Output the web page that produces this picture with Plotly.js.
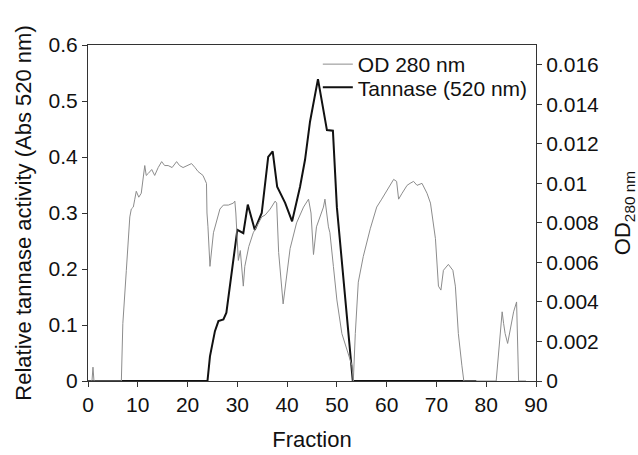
<!DOCTYPE html>
<html>
<head>
<meta charset="utf-8">
<script src="https://cdn.plot.ly/plotly-3.0.1.min.js"></script>
<style>html,body{margin:0;padding:0;background:#fff;}#chart{width:638px;height:455px;}</style>
</head>
<body>
<div id="chart"></div>
<script>
// OD 280 nm (right axis)
var fractionOD = [0,0.8,1,1.2,6.7,7,7.7,8.4,8.7,9.1,9.4,9.7,10.2,10.7,11.4,11.7,12.1,12.8,13.4,14.1,14.8,15.4,16.1,16.9,17.8,18.4,19.1,19.9,20.8,21.5,22.1,23.1,23.8,23.9,24.1,24.5,25.2,26.5,27.2,28.2,29.2,29.5,29.7,30.2,30.6,31.2,31.5,32.3,33.2,34.9,35.6,36.6,37.6,37.9,38.3,39.2,39.9,40.6,41.9,43.3,44.3,44.8,45.3,45.9,47.3,47.6,48.3,48.6,49.3,50,51,52.3,53,53.3,53.7,54.3,55.3,56.7,58,59,59.7,60.7,61.4,62,62.4,63.1,64.1,64.7,65.4,66.1,67.1,68.1,68.8,69.8,70.4,70.9,71.4,72.4,73.3,73.8,74.4,75.1,75.5,82,82.5,82.8,83.2,83.5,83.8,84.3,84.8,85.5,86.1,86.3,86.5,88];
var od280 = [0,0,0.0007,0,0,0.0029,0.0056,0.0083,0.0087,0.0088,0.0092,0.0096,0.0093,0.0095,0.0109,0.0104,0.0105,0.0107,0.0104,0.0108,0.0111,0.0109,0.0109,0.0108,0.0111,0.0109,0.0108,0.0109,0.0110,0.0108,0.0106,0.0104,0.0100,0.0085,0.0078,0.0058,0.0075,0.0087,0.0089,0.0089,0.0090,0.0091,0.0085,0.0061,0.0066,0.0048,0.0058,0.0068,0.0075,0.0083,0.0084,0.0087,0.0091,0.0090,0.0065,0.0039,0.0053,0.0067,0.0080,0.0088,0.0092,0.0085,0.0064,0.0078,0.0088,0.0092,0.0078,0.0075,0.0058,0.0041,0.0024,0.0014,0.0008,0,0.0024,0.0050,0.0063,0.0077,0.0088,0.0092,0.0095,0.0099,0.0102,0.0101,0.0092,0.0095,0.0099,0.0100,0.0101,0.0099,0.0100,0.0095,0.0090,0.0072,0.0048,0.0046,0.0056,0.0059,0.0056,0.0048,0.0024,0.0008,0,0,0.0013,0.0024,0.0035,0.0029,0.0024,0.0019,0.0026,0.0035,0.0040,0.0024,0,0];

// Tannase activity (left axis)
var fractionTannase = [0,24,24.5,25.5,26.2,27.2,27.8,28.5,29.8,30,31.2,32.1,33.5,34.9,36.2,37.1,38,39.6,41,42.6,43.6,44.6,46.2,48,49.2,50,53.2,78];
var tannase = [0,0,0.044,0.089,0.107,0.11,0.122,0.169,0.25,0.27,0.264,0.315,0.27,0.30,0.40,0.41,0.347,0.318,0.285,0.347,0.395,0.463,0.539,0.448,0.447,0.31,0,0];

var xTicks = [0,10,20,30,40,50,60,70,80,90];
var leftTicks = [0,0.1,0.2,0.3,0.4,0.5,0.6];
var leftTickText = ['0','0.1','0.2','0.3','0.4','0.5','0.6'];
var rightTicks = [0,0.002,0.004,0.006,0.008,0.01,0.012,0.014,0.016];
var rightTickText = ['0','0.002','0.004','0.006','0.008','0.01','0.012','0.014','0.016'];

var FONT = 'Liberation Sans, Arial, sans-serif';

var traces = [
  {x: fractionOD, y: od280, yaxis: 'y2', type: 'scatter', mode: 'lines', name: 'OD 280 nm',
   legend: 'legend', line: {color: '#8c8c8c', width: 1}},
  {x: fractionTannase, y: tannase, type: 'scatter', mode: 'lines', name: 'Tannase (520 nm)',
   legend: 'legend2', line: {color: '#111111', width: 2}}
];

var axisLine = '#333333';
var legendStyle = function (yPos) {
  return {x: 0.513, y: yPos, xanchor: 'left', yanchor: 'middle', bgcolor: 'rgba(0,0,0,0)',
          font: {family: FONT, size: 21, color: '#111'}, itemwidth: 30};
};
var layout = {
  width: 638, height: 455,
  margin: {l: 88, r: 102, t: 45, b: 74},
  paper_bgcolor: '#ffffff', plot_bgcolor: '#ffffff',
  font: {family: FONT, size: 21, color: '#111'},
  showlegend: true,
  legend: legendStyle(0.942),
  legend2: legendStyle(0.873),
  xaxis: {range: [0, 90], tickvals: xTicks, showgrid: false, zeroline: false,
          showline: true, linecolor: axisLine, linewidth: 1, mirror: true,
          ticks: 'outside', ticklen: 5, tickcolor: axisLine,
          tickfont: {family: FONT, size: 21},
          title: {text: 'Fraction', font: {family: FONT, size: 22}, standoff: 16}},
  yaxis: {range: [0, 0.6], tickvals: leftTicks, ticktext: leftTickText, showgrid: false, zeroline: false,
          showline: true, linecolor: axisLine, linewidth: 1,
          ticks: 'outside', ticklen: 5, tickcolor: axisLine,
          tickfont: {family: FONT, size: 21},
          title: {text: 'Relative tannase activity (Abs 520 nm)', font: {family: FONT, size: 22}, standoff: 10}},
  yaxis2: {range: [0, 0.017], overlaying: 'y', side: 'right', tickvals: rightTicks, ticktext: rightTickText,
           showgrid: false, zeroline: false, showline: true, linecolor: axisLine, linewidth: 1,
           ticks: 'outside', ticklen: 5, tickcolor: axisLine,
           tickfont: {family: FONT, size: 21},
           title: {text: 'OD<sub>280 nm</sub>', font: {family: FONT, size: 22}, standoff: 16}}
};

Plotly.newPlot('chart', traces, layout, {displayModeBar: false, staticPlot: true});
</script>
</body>
</html>
